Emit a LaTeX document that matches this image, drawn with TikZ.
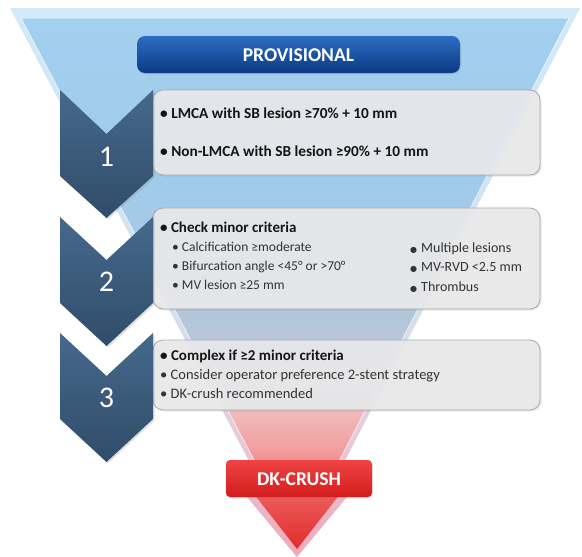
\documentclass[tikz,border=0pt]{standalone}
\usepackage{fontspec}
\setmainfont{Carlito}
\newfontfamily\symfont{DejaVu Sans}
\usetikzlibrary{shadows}

% funnel colours, top to bottom
\definecolor{fA}{HTML}{A3D0F0}
\definecolor{fB}{HTML}{A0CBEB}
\definecolor{fC}{HTML}{AEC6DC}
\definecolor{fD}{HTML}{BFC8D6}
\definecolor{fE}{HTML}{F0BEC0}
\definecolor{fF}{HTML}{F29C9C}
\definecolor{fG}{HTML}{EC5C5C}
\definecolor{fH}{HTML}{E02C2C}
% rim colours
\definecolor{rA}{HTML}{D2E9F8}
\definecolor{rB}{HTML}{D0E4F4}
\definecolor{rC}{HTML}{D6DEEA}
\definecolor{rD}{HTML}{E6CADC}
\definecolor{rE}{HTML}{F0A8B8}

\definecolor{chevtop}{HTML}{46698C}
\definecolor{chevbot}{HTML}{304C69}
\definecolor{boxfill}{HTML}{E9E9EB}
\definecolor{boxline}{HTML}{A9A9AD}
\definecolor{provtop}{HTML}{2C6DC2}
\definecolor{provbot}{HTML}{0B3A86}
\definecolor{dktop}{HTML}{F04444}
\definecolor{dkbot}{HTML}{D41C1C}
\definecolor{txt}{HTML}{151515}
\definecolor{subtxt}{HTML}{333333}

\pgfdeclareverticalshading{funnelfill}{100bp}{color(0bp)=(fH); color(25bp)=(fH);
  color(30.1bp)=(fG); color(34.2bp)=(fF); color(38.3bp)=(fE); color(42.9bp)=(fD);
  color(48.4bp)=(fC); color(59.3bp)=(fB); color(75bp)=(fA); color(100bp)=(fA)}
\pgfdeclareverticalshading{funnelrim}{100bp}{color(0bp)=(rE); color(25bp)=(rE);
  color(36bp)=(rD); color(45bp)=(rC); color(60bp)=(rB); color(75bp)=(rA); color(100bp)=(rA)}

\tikzset{
  chevron/.style={top color=chevtop, bottom color=chevbot, draw=none,
    drop shadow={opacity=0.25, shadow xshift=1.5pt, shadow yshift=-1.5pt}},
  infobox/.style={fill=boxfill, fill opacity=0.92, draw=boxline, line width=0.8pt,
    rounded corners=10pt,
    drop shadow={opacity=0.18, shadow xshift=1.5pt, shadow yshift=-1.5pt}},
  stepnum/.style={text=white, font=\fontsize{30}{30}\selectfont},
  bigline/.style={anchor=base west, inner sep=0pt, text=txt,
    font=\bfseries\fontsize{15.3}{17}\selectfont},
  mainline/.style={anchor=base west, inner sep=0pt, text=txt,
    font=\bfseries\fontsize{15}{17}\selectfont},
  subline/.style={anchor=base west, inner sep=0pt, text=subtxt,
    font=\fontsize{13.5}{15}\selectfont},
  lowline/.style={anchor=base west, inner sep=0pt, text=subtxt,
    font=\fontsize{14.5}{16}\selectfont},
  sideline/.style={anchor=base west, inner sep=0pt, text=subtxt,
    font=\fontsize{14}{16}\selectfont},
  banner/.style={text=white, font=\bfseries\fontsize{19.5}{21}\selectfont,
    inner sep=0pt}
}

\newcommand{\dotbullet}{{\symfont\fontsize{8}{8}\selectfont ●}\hspace{4pt}}

\begin{document}
\begin{tikzpicture}[x=1pt,y=-1pt]
\useasboundingbox (0,0) rectangle (582,557);

% funnel: pale rim, then the coloured body
\shade[shading=funnelrim]
  (10,8) -- (580,8) -- (326,497) -- (347,497) -- (297,557) -- (247,497) -- (268,497) -- cycle;
\shade[shading=funnelfill]
  (21,18) -- (569,18) -- (322,494) -- (340,494) -- (297,549) -- (254,494) -- (272,494) -- cycle;
\draw[white, opacity=0.7, line width=0.8pt]
  (21,18) -- (569,18) -- (322,494) (272,494) -- (21,18);

% information boxes
\path[infobox] (153,90) rectangle (540,175);
\path[infobox] (153,208) rectangle (540,309);
\path[infobox] (153,340) rectangle (540,410);

% step chevrons
\path[chevron] (60,90) -- (106.5,134) -- (153,90) -- (153,176) -- (106.5,218) -- (60,176) -- cycle;
\path[chevron] (60,217) -- (106.5,260) -- (153,217) -- (153,303) -- (106.5,346) -- (60,303) -- cycle;
\path[chevron] (60,333) -- (106.5,376) -- (153,333) -- (153,419) -- (106.5,462) -- (60,419) -- cycle;

\node[stepnum] (n1) at (106.5,157) {1};
\node[stepnum] (n2) at (106.5,282) {2};
\node[stepnum] (n3) at (106.5,398) {3};

% banners
\path[top color=provtop, bottom color=provbot, rounded corners=8pt,
  drop shadow={opacity=0.2, shadow xshift=1pt, shadow yshift=-1.5pt}]
  (137,36) rectangle (460,73);
\node[banner] (prov) at (298.5,55) {PROVISIONAL};

\path[top color=dktop, bottom color=dkbot, rounded corners=4pt,
  drop shadow={opacity=0.2, shadow xshift=1pt, shadow yshift=-1.5pt}]
  (226,460) rectangle (372,497);
\node[banner] (dk) at (299,479) {DK-CRUSH};

% step 1
\node[bigline] (a1) at (160,118) {• LMCA with SB lesion ≥70\% + 10 mm};
\node[bigline] (a2) at (160,156) {• Non-LMCA with SB lesion ≥90\% + 10 mm};

% step 2
\node[mainline] (b1) at (160,232.5) {• Check minor criteria};
\node[subline] (b2) at (172,251) {• Calcification ≥moderate};
\node[subline] (b3) at (172,270) {• Bifurcation angle <45° or >70°};
\node[subline] (b4) at (172,289) {• MV lesion ≥25 mm};
\node[sideline] (c1) at (410,252.5) {\dotbullet Multiple lesions};
\node[sideline] (c2) at (410,271.5) {\dotbullet MV-RVD <2.5 mm};
\node[sideline] (c3) at (410,291.5) {\dotbullet Thrombus};

% step 3
\node[mainline] (d1) at (160,360.5) {• Complex if ≥2 minor criteria};
\node[lowline] (d2) at (160,379.5) {• Consider operator preference 2-stent strategy};
\node[lowline] (d3) at (160,398.5) {• DK-crush recommended};
\end{tikzpicture}
\end{document}
